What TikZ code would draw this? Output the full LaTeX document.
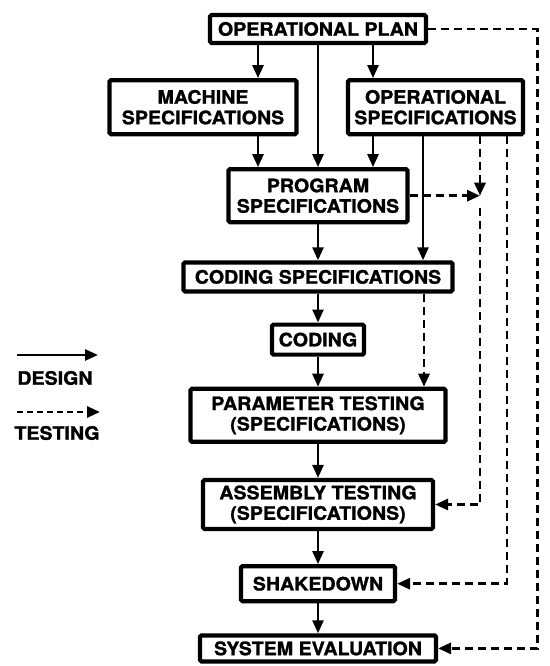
\documentclass[tikz,border=0pt]{standalone}
\usepackage{fontspec}
\setmainfont{TeX Gyre Heros}[FakeStretch=1.06,BoldFeatures={FakeBold=1.3}]
\usetikzlibrary{positioning,arrows.meta}

\begin{document}
\begin{tikzpicture}[x=1pt,y=1pt,
	stage/.style={draw,line width=4.2pt,rounded corners=1.5pt,inner sep=0pt,align=center,font=\fontsize{18.5}{20.5}\selectfont\bfseries},
	keytext/.style={inner sep=0pt,font=\fontsize{18.5}{20.5}\selectfont\bfseries},
	design/.style={line width=2.6pt,-{Triangle[length=13pt,width=11pt]}},
	testing/.style={design,line width=2.9pt,dash pattern=on 8pt off 5pt}]

	\useasboundingbox (0,0) rectangle (549,-666);

	\node[stage,minimum width=216pt,minimum height=28pt] (plan) at (318,-29) {OPERATIONAL PLAN};
	\node[stage,minimum width=187pt,minimum height=54pt] (mach) [below=33pt of plan, xshift=-115pt] {MACHINE\\SPECIFICATIONS};
	\node[stage,minimum width=175pt,minimum height=54pt] (opspec) [below=33pt of plan, xshift=117.5pt] {OPERATIONAL\\SPECIFICATIONS};
	\node[stage,minimum width=179pt,minimum height=53pt] (prog) [below=122pt of plan] {PROGRAM\\SPECIFICATIONS};
	\node[stage,minimum width=269pt,minimum height=29pt] (cspec) [below=36pt of prog] {CODING SPECIFICATIONS};
	\node[stage,minimum width=92pt,minimum height=30pt] (coding) [below=29pt of cspec] {CODING};
	\node[stage,minimum width=255pt,minimum height=53pt] (param) [below=30pt of coding] {PARAMETER TESTING\\(SPECIFICATIONS)};
	\node[stage,minimum width=230pt,minimum height=49pt] (asm) [below=34pt of param] {ASSEMBLY TESTING\\(SPECIFICATIONS)};
	\node[stage,minimum width=154pt,minimum height=35pt] (shake) [below=33pt of asm] {SHAKEDOWN};
	\node[stage,minimum width=236pt,minimum height=26pt] (syseval) [below=30pt of shake] {SYSTEM EVALUATION};

	% design flow
	\draw[design] ([xshift=-60pt]plan.south) -- ([xshift=-60pt]plan.south |- mach.north);
	\draw[design] (plan) -- (prog);
	\draw[design] ([xshift=55pt]plan.south) -- ([xshift=55pt]plan.south |- opspec.north);
	\draw[design] ([xshift=55pt]mach.south) -- ([xshift=55pt]mach.south |- prog.north);
	\draw[design] ([xshift=-62.5pt]opspec.south) -- ([xshift=-62.5pt]opspec.south |- prog.north);
	\draw[design] ([xshift=-12.5pt]opspec.south) -- ([xshift=-12.5pt]opspec.south |- cspec.north);
	\draw[design] (prog) -- (cspec);
	\draw[design] (cspec) -- (coding);
	\draw[design] (coding) -- (param);
	\draw[design] (param) -- (asm);
	\draw[design] (asm) -- (shake);
	\draw[design] (shake) -- (syseval);

	% testing flow
	\draw[testing] ([xshift=106pt]cspec.south) -- ([xshift=106pt]cspec.south |- param.north);
	\coordinate (meet) at ([xshift=44.5pt]opspec.south |- prog.east);
	\draw[testing] ([xshift=44.5pt]opspec.south) -- (meet);
	\draw[testing] (prog.east) -- (meet);
	\draw[testing] ([yshift=-12pt]meet) |- (asm.east);
	\draw[testing] ([xshift=71.5pt]opspec.south) |- (shake.east);
	\draw[testing] (plan.east) -- ++(109pt,0) |- (syseval.east);

	% key
	\node[keytext] (designkey) at (55,-378) {DESIGN};
	\node[keytext] (testkey) at (57,-433) {TESTING};
	\coordinate (d0) at (17,-355);
	\coordinate (d1) at (98,-355);
	\coordinate (t0) at (17,-412);
	\coordinate (t1) at (100,-412);
	\draw[design] (d0) -- (d1);
	\draw[testing,dash pattern=on 6pt off 4pt] (t0) -- (t1);

\end{tikzpicture}
\end{document}
